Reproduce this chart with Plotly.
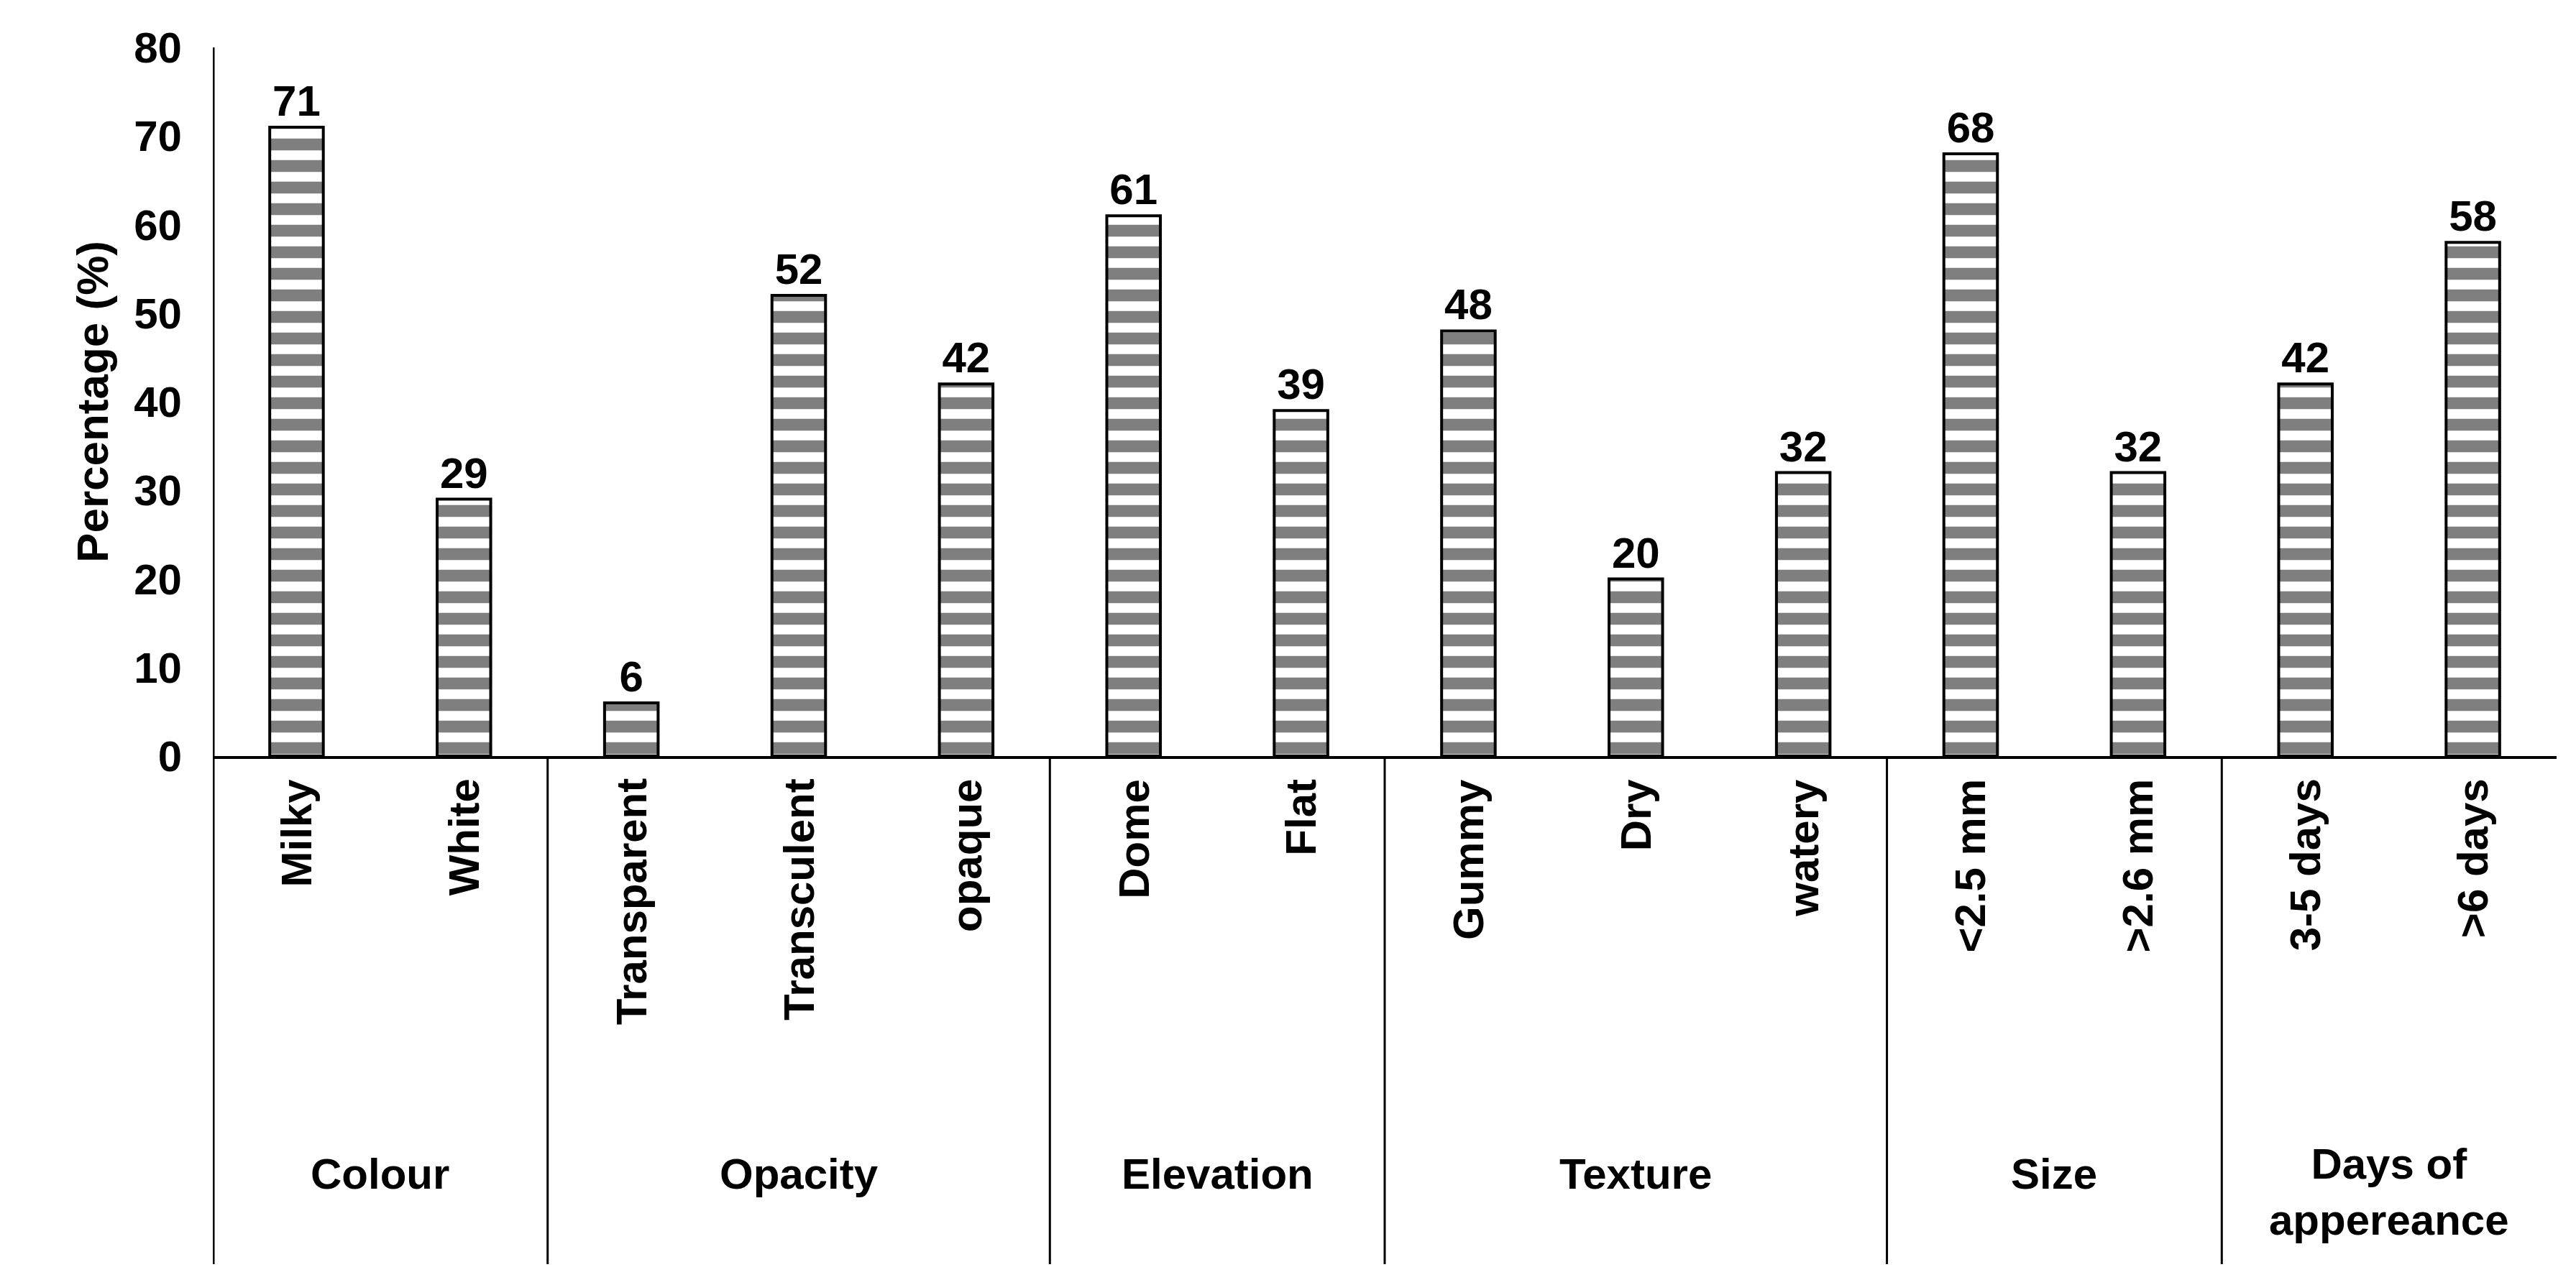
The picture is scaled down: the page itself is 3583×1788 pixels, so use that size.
import plotly.graph_objects as go

items = ["Milky", "White", "Transparent", "Transculent", "opaque", "Dome", "Flat",
         "Gummy", "Dry", "watery", "<2.5 mm", ">2.6 mm", "3-5 days", ">6 days"]
values = [71, 29, 6, 52, 42, 61, 39, 48, 20, 32, 68, 32, 42, 58]
groups = ["Colour", "Opacity", "Elevation", "Texture", "Size", "Days of<br>appereance"]
group_sizes = [2, 3, 2, 3, 2, 2]

font = "Liberation Sans, Arial"
x = list(range(len(items)))

fig = go.Figure(go.Bar(
    x=x, y=values, width=0.32,
    marker=dict(color="white", line=dict(color="black", width=4),
                pattern=dict(shape="-", fgcolor="black", bgcolor="white",
                             size=30, solidity=0.55)),
    text=[f"<b>{v}</b>" for v in values], textposition="outside",
    textfont=dict(size=60, color="black", family=font), cliponaxis=False,
))

bottom = -0.717
shapes = [dict(type="line", xref="x", yref="paper", x0=-0.5, x1=-0.5, y0=1, y1=bottom,
               line=dict(color="black", width=5))]
annotations = []
for i, name in enumerate(items):
    annotations.append(dict(x=i, xref="x", y=-0.03, yref="paper", text=f"<b>{name}</b>",
                            textangle=-90, yanchor="top", xanchor="center", showarrow=False,
                            font=dict(size=60, family=font, color="black")))
start = 0
for g, n in zip(groups, group_sizes):
    end = start + n
    annotations.append(dict(x=(start + end - 1) / 2, xref="x", y=-0.59, yref="paper",
                            text=f"<b>{g}</b>", yanchor="middle", showarrow=False,
                            font=dict(size=60, family=font, color="black")))
    if end < len(items):
        shapes.append(dict(type="line", xref="x", yref="paper", x0=end - 0.5, x1=end - 0.5,
                           y0=0, y1=bottom, line=dict(color="black", width=3)))
    start = end
annotations[-1]["y"] = -0.615

fig.update_layout(
    width=3583, height=1788, plot_bgcolor="white", paper_bgcolor="white",
    margin=dict(l=288, r=35, t=58, b=744), showlegend=False,
    shapes=shapes, annotations=annotations,
    font=dict(family=font, color="black"),
)
fig.update_xaxes(range=[-0.5, 13.5], showticklabels=False, showline=True,
                 linecolor="black", linewidth=4, ticks="", showgrid=False, zeroline=False)
fig.update_yaxes(range=[0, 80], dtick=10, showgrid=False, zeroline=False,
                 showline=False, ticks="outside", ticklen=30, tickcolor="white",
                 tickfont=dict(size=60, family=font),
                 tickprefix="<b>", ticksuffix="</b>",
                 title=dict(text="<b>Percentage (%)</b>", font=dict(size=62, family=font),
                            standoff=15))

fig.write_html("out.html")
